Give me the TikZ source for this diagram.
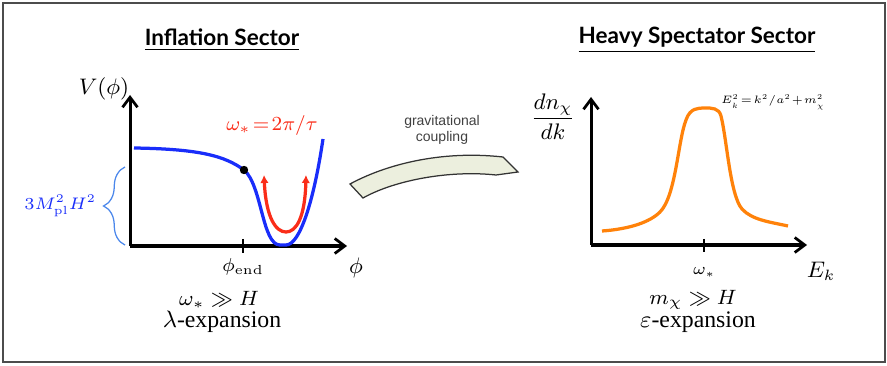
\documentclass[tikz,border=0pt]{standalone}
\usepackage{fix-cm}
\usepackage[no-math]{fontspec}
\setmainfont{Liberation Serif}
\newfontfamily\sectorfont{Lato}
\newfontfamily\couplingfont{Liberation Sans}
\usepackage{xcolor}
\usepackage{amsmath}
\usepackage{amssymb}
\usepackage{tikz}
\usetikzlibrary{arrows.meta, positioning, decorations.pathreplacing}

\definecolor{potblue}{RGB}{25,45,250}
\definecolor{oscred}{RGB}{250,45,25}
\definecolor{specorange}{RGB}{255,130,10}
\definecolor{braceblue}{RGB}{75,135,235}
\definecolor{bandfill}{RGB}{236,239,222}

\begin{document}
\begin{tikzpicture}[
    x=0.4pt, y=-0.4pt,
    frame/.style={draw=black!70, line width=0.7pt},
    sector/.style={font=\sectorfont\bfseries\fontsize{9}{11}\selectfont, inner sep=1pt},
    axis/.style={-{Straight Barb[length=4pt, width=6pt, line width=1.1pt]}, line width=1.2pt},
    tickmark/.style={line width=1.1pt},
    potential/.style={potblue, line width=1.3pt},
    oscillation/.style={{Latex[length=3.2pt, width=3.4pt]}-{Latex[length=3.2pt, width=3.4pt]}, oscred, line width=1.3pt},
    spectrum/.style={specorange, line width=1.3pt},
    bracket/.style={braceblue, line width=0.5pt, decorate, decoration={brace, amplitude=8.6pt}},
    band/.style={fill=bandfill, draw=black!80, line width=0.5pt},
    axislabel/.style={font=\fontsize{9}{11}\selectfont, inner sep=1pt},
    ticklabel/.style={font=\fontsize{7.5}{9}\selectfont, inner sep=1pt},
    caption/.style={font=\fontsize{9.5}{11}\selectfont, inner sep=1pt}
]
\useasboundingbox (0,0) rectangle (887,366);
\draw[frame] (3,3) rectangle (885,362);

% Titles
\node[sector] (inflation) at (222,40) {\underline{Inflation Sector}};
\node[sector] (spectator) at (697,40) {\underline{Heavy Spectator Sector}};

% Inflation axes
\coordinate (inforigin) at (130,246);
\coordinate (infytop) at (130,95);
\coordinate (infxend) at (347,246);
\draw[axis] (inforigin) -- (infytop);
\draw[axis] (inforigin) -- (infxend);
\node[axislabel] (vlabel) at (104,89) {$V(\phi)$};
\node[axislabel] (philabel) at (356,268) {$\phi$};
\draw[tickmark] (243,239) -- (243,253) coordinate (endtick);
\node[ticklabel, below=1pt of endtick] (phiend) {$\phi_{\rm end}$};

% Potential
\draw[potential] (134,148) .. controls (200,149) and (225,156) .. (244,170)
    .. controls (262,185) and (262,245) .. (280,245) -- (286,245)
    .. controls (300,245) and (314,200) .. (323,139);
\fill (244,170) circle (4.2);
\draw[oscillation] (264,175) .. controls (266,218) and (276,232) .. (286,232)
    .. controls (296,232) and (305,218) .. (306,175);
\node[ticklabel, oscred, font=\fontsize{8}{9}\selectfont] (period) at (272,126) {$\omega_*\!=\!2\pi/\tau$};

% Hubble brace
\draw[bracket] (125,245) -- (125,167);
\node[ticklabel, potblue, font=\fontsize{6.7}{8}\selectfont, anchor=east] (hubble) at (99,206) {$3M_{\rm pl}^2H^2$};

% Gravitational coupling
\draw[band] (350,184) .. controls (385,165) and (440,150) .. (503,157) -- (518,172) -- (496,175)
    .. controls (450,170) and (395,180) .. (363,198) -- cycle;
\node[align=center, text=black!75, font=\couplingfont\fontsize{5.6}{6.5}\selectfont] (coupling) at (442,130) {gravitational\\coupling};

% Spectator axes
\coordinate (specorigin) at (591,245);
\coordinate (specytop) at (591,97);
\coordinate (specxend) at (807,245);
\draw[axis] (specorigin) -- (specytop);
\draw[axis] (specorigin) -- (specxend);
\node[axislabel] (dnlabel) at (553,117) {$\dfrac{dn_\chi}{dk}$};
\node[axislabel] (eklabel) at (821,271) {$E_k$};
\draw[tickmark] (704,239) -- (704,252) coordinate (startick);
\node[ticklabel, font=\fontsize{6.5}{8}\selectfont, below=5pt of startick] (omegastar) {$\omega_*$};
\node[ticklabel, font=\fontsize{4.3}{5}\selectfont] (dispersion) at (773,102) {$E_k^2\!=\!k^2/a^2\!+\!m_\chi^2$};

% Spectrum
\draw[spectrum] (602,231) .. controls (630,229) and (650,222) .. (660,212)
    .. controls (676,196) and (678,140) .. (686,120)
    .. controls (690,108) and (698,108) .. (705,108)
    .. controls (712,108) and (719,108) .. (721,116)
    .. controls (727,140) and (730,195) .. (742,209)
    .. controls (752,220) and (770,222) .. (788,226);

% Regimes
\node[caption, font=\fontsize{8.3}{10}\selectfont] (inflimit) at (219,300) {$\omega_* \gg H$};
\node[caption] (lambdaexp) at (222,322) {$\lambda$-expansion};
\node[caption, font=\fontsize{8.3}{10}\selectfont] (speclimit) at (693,300) {$m_\chi \gg H$};
\node[caption] (epsexp) at (698,322) {$\varepsilon$-expansion};

\end{tikzpicture}
\end{document}
